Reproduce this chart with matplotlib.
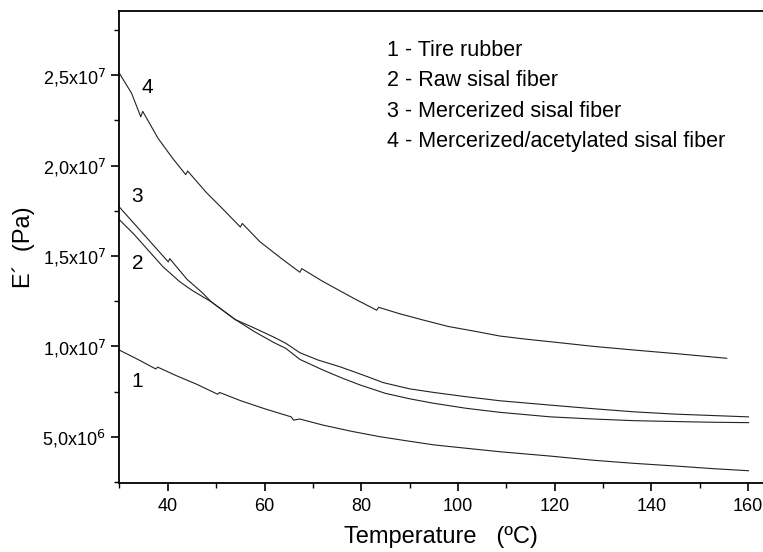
import numpy as np
import matplotlib
matplotlib.use("Agg")
import matplotlib.pyplot as plt
from matplotlib.ticker import MultipleLocator, FixedLocator, FixedFormatter

plt.rcParams["font.family"] = ["Liberation Sans", "DejaVu Sans"]

# curve 1 - tire rubber
t1 = [30, 34, 37.5, 37.9, 42, 46, 50.3, 50.7, 55, 60, 65.5, 66, 67.3, 72, 78, 83.9, 90, 95, 101.8, 108.7, 119.1, 128, 136.3, 145, 153, 160.1]
e1 = [9.79e6, 9.25e6, 8.75e6, 8.85e6, 8.35e6, 7.9e6, 7.35e6, 7.45e6, 7.0e6, 6.55e6, 6.1e6, 5.92e6, 5.98e6, 5.65e6, 5.3e6, 5.0e6, 4.75e6, 4.55e6, 4.36e6, 4.17e6, 3.93e6, 3.7e6, 3.53e6, 3.38e6, 3.23e6, 3.12e6]
# curve 2 - raw sisal fiber
t2 = [30, 33, 36, 39, 42.5, 45, 49, 53.9, 58, 62, 64.4, 67.3, 72, 76, 79.8, 85, 90, 95, 101.8, 108.7, 119.1, 128, 136.3, 145, 153, 160.1]
e2 = [1.70e7, 1.62e7, 1.53e7, 1.44e7, 1.357e7, 1.31e7, 1.246e7, 1.149e7, 1.08e7, 1.02e7, 9.89e6, 9.28e6, 8.7e6, 8.25e6, 7.86e6, 7.4e6, 7.1e6, 6.85e6, 6.57e6, 6.35e6, 6.1e6, 5.98e6, 5.89e6, 5.84e6, 5.8e6, 5.78e6]
# curve 3 - mercerized sisal fiber
t3 = [30, 33, 36, 40.1, 40.4, 44, 47, 49, 53.9, 58, 62, 64.4, 67.3, 71, 75.6, 80, 84.6, 90, 95, 101.8, 108.7, 119.1, 128, 136.3, 145, 153, 160.1]
e3 = [1.77e7, 1.68e7, 1.59e7, 1.467e7, 1.485e7, 1.37e7, 1.30e7, 1.246e7, 1.149e7, 1.10e7, 1.05e7, 1.017e7, 9.65e6, 9.25e6, 8.87e6, 8.45e6, 7.99e6, 7.65e6, 7.45e6, 7.21e6, 6.99e6, 6.75e6, 6.55e6, 6.38e6, 6.25e6, 6.17e6, 6.1e6]
# curve 4 - mercerized/acetylated sisal fiber
t4 = [30, 32.5, 34.4, 34.8, 38, 41, 43.7, 44.1, 48, 51, 55, 55.4, 59, 63.3, 67.3, 67.7, 72, 78.7, 83.2, 83.6, 88, 92.9, 98, 103.2, 108.7, 114, 121.1, 128, 136.3, 145, 155.6]
e4 = [2.51e7, 2.40e7, 2.27e7, 2.30e7, 2.15e7, 2.04e7, 1.95e7, 1.97e7, 1.85e7, 1.77e7, 1.66e7, 1.68e7, 1.58e7, 1.49e7, 1.41e7, 1.43e7, 1.36e7, 1.262e7, 1.20e7, 1.216e7, 1.18e7, 1.145e7, 1.11e7, 1.085e7, 1.057e7, 1.04e7, 1.02e7, 1.0e7, 9.8e6, 9.6e6, 9.34e6]

labels = ["1 - Tire rubber", "2 - Raw sisal fiber", "3 - Mercerized sisal fiber", "4 - Mercerized/acetylated sisal fiber"]
yticks = [5e6, 1e7, 1.5e7, 2e7, 2.5e7]
ytick_labels = [r"5,0x10$^6$", r"1,0x10$^7$", r"1,5x10$^7$", r"2,0x10$^7$", r"2,5x10$^7$"]

fig = plt.figure(figsize=(7.63, 5.52), dpi=100)
ax = fig.add_axes([0.1566, 0.1255, 0.8434, 0.8545])

for t, e in [(t1, e1), (t2, e2), (t3, e3), (t4, e4)]:
    ax.plot(t, e, color="#222222", lw=0.8)

ax.text(35.7, 2.43e7, "4", fontsize=15, ha="center", va="center")
ax.text(33.7, 1.827e7, "3", fontsize=15, ha="center", va="center")
ax.text(33.7, 1.461e7, "2", fontsize=15, ha="center", va="center")
ax.text(33.7, 8.04e6, "1", fontsize=15, ha="center", va="center")

for i, lab in enumerate(labels):
    ax.text(0.415, 0.917 - i * 0.0645, lab, transform=ax.transAxes, fontsize=15.5, va="center", ha="left")

ax.set_xlim(30, 163.1)
ax.set_ylim(2.456e6, 2.855e7)
ax.set_xticks([40, 60, 80, 100, 120, 140, 160])
ax.xaxis.set_minor_locator(MultipleLocator(10))
ax.yaxis.set_major_locator(FixedLocator(yticks))
ax.yaxis.set_major_formatter(FixedFormatter(ytick_labels))
ax.yaxis.set_minor_locator(MultipleLocator(2.5e6))

ax.spines["right"].set_visible(False)
for s in ["left", "bottom", "top"]:
    ax.spines[s].set_linewidth(1.3)
ax.tick_params(which="major", direction="out", length=6, width=1.2, labelsize=13)
ax.tick_params(which="minor", direction="out", length=3.5, width=1.0)
ax.tick_params(axis="x", pad=5)
ax.tick_params(axis="y", pad=4)

ax.set_xlabel("Temperature   (ºC)", fontsize=17, labelpad=8)
ax.set_ylabel("E´  (Pa)", fontsize=17, labelpad=5)

fig.savefig("out.png", dpi=100)
